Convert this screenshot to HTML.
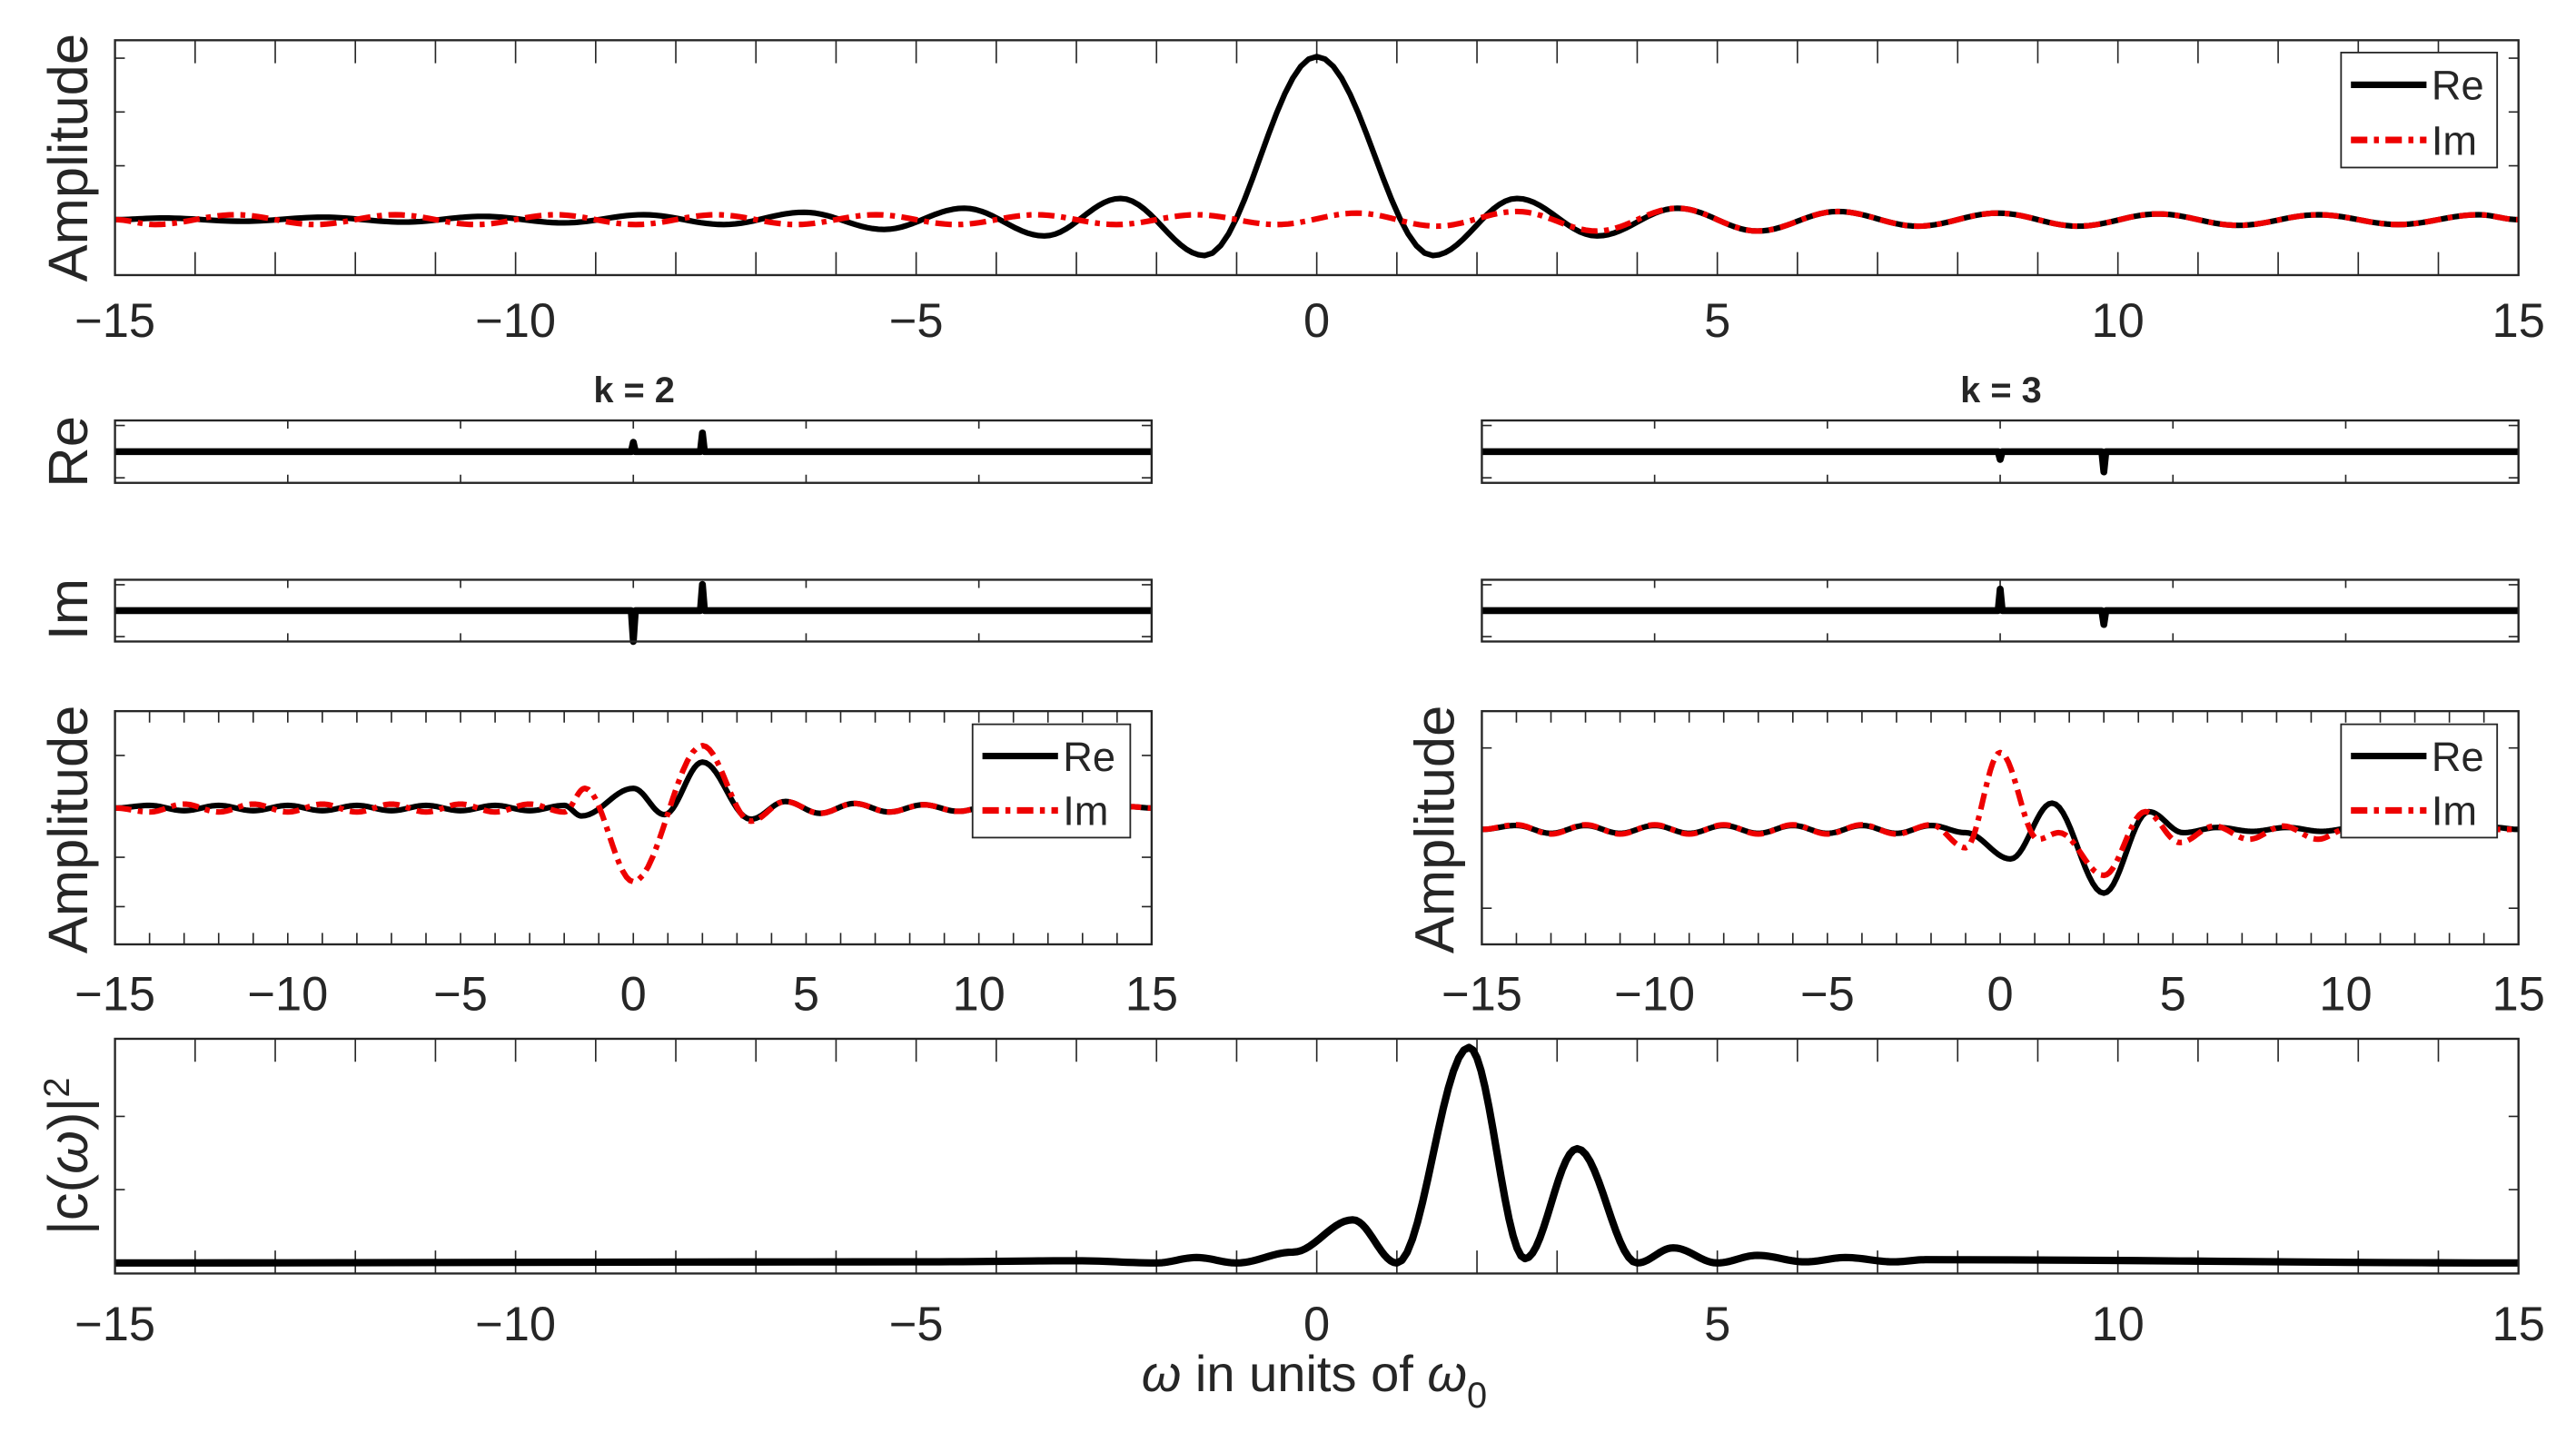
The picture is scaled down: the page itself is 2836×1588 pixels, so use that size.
<!DOCTYPE html>
<html><head><meta charset="utf-8"><style>
html,body{margin:0;padding:0;background:#fff;}
svg{display:block;}
text{font-family:"Liberation Sans",sans-serif;fill:#262626;}
</style></head><body>
<svg id="fig" xmlns="http://www.w3.org/2000/svg" width="2836" height="1588" viewBox="0 0 1568 878" preserveAspectRatio="none"></svg>
<script>
// ---- data ----
const topReX=[-15,-14.4,-13.4,-12.4,-11.4,-10.4,-9.4,-8.4,-7.4,-6.4,-5.4,-4.4,-3.4,-2.45,-1.4,0,1.45,2.5,3.5,4.5,5.5,6.5,7.5,8.5,9.5,10.5,11.5,12.5,13.5,14.5,15];
const topReY=[0,0.01,-0.01,0.015,-0.015,0.02,-0.02,0.03,-0.03,0.045,-0.06,0.07,-0.1,0.13,-0.22,1,-0.22,0.13,-0.1,0.07,-0.07,0.05,-0.04,0.04,-0.04,0.035,-0.035,0.03,-0.03,0.03,0];
const topImX=[-15,-14.5,-13.5,-12.5,-11.5,-10.5,-9.5,-8.5,-7.5,-6.5,-5.5,-4.5,-3.5,-2.5,-1.5,-0.5,0.5,1.5,2.5,3.5,4.5,5.5,6.5,7.5,8.5,9.5,10.5,11.5,12.5,13.5,14.5,15];
const topImY=[0,-0.03,0.03,-0.03,0.03,-0.03,0.03,-0.03,0.03,-0.03,0.03,-0.03,0.03,-0.03,0.03,-0.03,0.04,-0.04,0.05,-0.07,0.07,-0.07,0.05,-0.04,0.04,-0.04,0.035,-0.035,0.03,-0.03,0.03,0];
const k2ReSpikeX=[0,2]; const k2ReSpikeY=[0.3,0.6];
const k2ImSpikeX=[0,2]; const k2ImSpikeY=[-1.0,0.85];
const k3ReSpikeX=[0,3]; const k3ReSpikeY=[-0.25,-0.65];
const k3ImSpikeX=[0,3]; const k3ImSpikeY=[0.7,-0.45];
const k2ReX=[-15,-14,-13,-12,-11,-10,-9,-8,-7,-6,-5,-4,-3,-2,-1.5,0,0.9,2.0,3.4,4.4,5.4,6.4,7.4,8.4,9.4,10.4,11.4,12.4,13.4,14.4,15];
const k2ReY=[0,0.04,-0.04,0.04,-0.04,0.04,-0.04,0.04,-0.04,0.04,-0.04,0.04,-0.04,0.04,-0.12,0.3,-0.1,0.7,-0.17,0.1,-0.08,0.07,-0.06,0.05,-0.05,0.04,-0.04,0.03,-0.03,0.02,0];
const k2ImX=[-15,-14,-13,-12,-11,-10,-9,-8,-7,-6,-5,-4,-3,-2,-1.4,0,2.0,3.4,4.4,5.4,6.4,7.4,8.4,9.4,10.4,11.4,12.4,13.4,14.4,15];
const k2ImY=[0,-0.06,0.06,-0.06,0.06,-0.06,0.06,-0.06,0.06,-0.06,0.06,-0.06,0.06,-0.06,0.3,-1.12,0.95,-0.2,0.1,-0.08,0.07,-0.06,0.05,-0.05,0.04,-0.04,0.03,-0.03,0.02,0];
const k3ReX=[-15,-14,-13,-12,-11,-10,-9,-8,-7,-6,-5,-4,-3,-2,-1,0.3,1.5,3.0,4.3,5.3,6.3,7.3,8.3,9.3,10.3,11.3,12.3,13.3,14.3,15];
const k3ReY=[0,0.06,-0.06,0.06,-0.06,0.06,-0.06,0.06,-0.06,0.06,-0.06,0.06,-0.06,0.06,-0.05,-0.45,0.4,-0.97,0.27,-0.05,0.03,-0.03,0.03,-0.03,0.03,-0.03,0.03,-0.03,0.03,0];
const k3ImX=[-15,-14,-13,-12,-11,-10,-9,-8,-7,-6,-5,-4,-3,-2,-1,0,1.1,1.7,3.0,4.2,5.2,6.2,7.2,8.2,9.2,10,15];
const k3ImY=[0,0.07,-0.07,0.07,-0.07,0.07,-0.07,0.07,-0.07,0.07,-0.07,0.07,-0.07,0.07,-0.28,1.17,-0.15,-0.05,-0.7,0.27,-0.2,0.05,-0.15,0.05,-0.15,0,0];
const specX=[-15,-5,-3,-2,-1.5,-1,-0.3,0.45,1.0,1.9,2.6,3.25,4.0,4.45,5.0,5.5,6.1,6.6,7.2,7.6,15];
const specY=[0,0.005,0.01,0,0.025,0,0.05,0.2,0,1.0,0.02,0.53,0,0.07,0,0.035,0.005,0.025,0.005,0.015,0];
const xTickVals=[-15,-10,-5,0,5,10,15];
const xTickLabels=["\u221215","\u221210","\u22125","0","5","10","15"];

// ---- helpers ----
const NS="http://www.w3.org/2000/svg";
const svg=document.getElementById('fig');
function el(tag,attrs,parent){const e=document.createElementNS(NS,tag);for(const k in attrs)e.setAttribute(k,attrs[k]);(parent||svg).appendChild(e);return e;}
function makeAxes(p){
  p.sx=v=>p.x0+(v-p.xmin)/(p.xmax-p.xmin)*(p.x1-p.x0);
  p.sy=v=>p.y1-(v-p.ymin)/(p.ymax-p.ymin)*(p.y1-p.y0);
  const g=el('g',{});
  
  
  p.g=g;
  const cp=el('clipPath',{id:'c_'+p.name},g);
  el('rect',{x:p.x0,y:p.y0,width:p.x1-p.x0,height:p.y1-p.y0},cp);
  let d='';
  for(let v=p.xmin;v<=p.xmax+1e-9;v+=p.xstep){const x=p.sx(v);d+=`M${x},${p.y0}v${p.tl}M${x},${p.y1}v${-p.tl}`;}
  for(const v of p.yticks){const y=p.sy(v);d+=`M${p.x0},${y}h6M${p.x1},${y}h-6`;}
  const t=el('path',{d:d,stroke:'#262626','stroke-width':0.9,fill:'none'},g);
  
  
  if(p.labels){
    xTickVals.forEach((v,i)=>{const tx=el('text',{x:p.sx(v),y:p.ly,'font-size':29,'text-anchor':'middle'},g);tx.textContent=xTickLabels[i];
      
      });
  }
  return p;
}
function frame(p){
  const r=el('rect',{x:p.x0,y:p.y0,width:p.x1-p.x0,height:p.y1-p.y0,fill:'none',stroke:'#262626','stroke-width':1.3},p.g);
  
  
}
function curve(p,xs,ys,color,dash,w,name){
  let pts=[];
  for(let i=0;i<xs.length-1;i++){
    const n=14;
    for(let j=0;j<n;j++){const t=j/n;const f=(1-Math.cos(Math.PI*t))/2;
      pts.push([xs[i]+(xs[i+1]-xs[i])*t, ys[i]+(ys[i+1]-ys[i])*f]);}
  }
  pts.push([xs[xs.length-1],ys[ys.length-1]]);
  const d='M'+pts.map(q=>p.sx(q[0]).toFixed(2)+','+p.sy(q[1]).toFixed(2)).join('L');
  const a={d:d,fill:'none',stroke:color,'stroke-width':w,'stroke-linejoin':'round','clip-path':`url(#c_${p.name})`};
  if(dash)a['stroke-dasharray']=dash;
  const e=el('path',a,p.g);
  
  
}
function spikes(p,sxs,sys,name){
  let d=`M${p.sx(p.xmin)},${p.sy(0)}`;
  sxs.forEach((x,i)=>{d+=`L${p.sx(x-0.06)},${p.sy(0)}L${p.sx(x)},${p.sy(sys[i])}L${p.sx(x+0.06)},${p.sy(0)}`;});
  d+=`L${p.sx(p.xmax)},${p.sy(0)}`;
  const e=el('path',{d:d,fill:'none',stroke:'#000','stroke-width':4.2,'stroke-linejoin':'round'},p.g);
  
  
}
function ylabel(x,y,txt,name,size){
  const t=el('text',{x:x,y:y,'font-size':size||34,'text-anchor':'middle',transform:`rotate(-90 ${x} ${y})`});
  t.textContent=txt;
  
  
  return t;
}
function legend(x0,y0,x1,y1,name){
  const g=el('g',{});
  
  
  el('rect',{x:x0,y:y0,width:x1-x0,height:y1-y0,fill:'#fff',stroke:'#262626','stroke-width':1},g);
  const h=y1-y0;
  const ya=y0+h*0.28, yb=y0+h*0.76;
  el('line',{x1:x0+6,x2:x0+52,y1:ya,y2:ya,stroke:'#000','stroke-width':4},g);
  el('line',{x1:x0+6,x2:x0+52,y1:yb,y2:yb,stroke:'#e00','stroke-width':4,'stroke-dasharray':'10 4 3 4'},g);
  const t1=el('text',{x:x0+55,y:ya+9,'font-size':25},g);t1.textContent='Re';
  
  
  const t2=el('text',{x:x0+55,y:yb+9,'font-size':25},g);t2.textContent='Im';
  
  
}

// ---- top panel ----
const topAx=makeAxes({name:'top-axes',x0:70,x1:1533,y0:24.5,y1:167.5,xmin:-15,xmax:15,ymin:-0.34,ymax:1.1,xstep:1,tl:14,yticks:[0.33,0.66,0.99],labels:true,ly:205});
curve(topAx,topReX,topReY,'#000',null,3.4,'top-re-line');
curve(topAx,topImX,topImY,'#e00','10 4 3 4',3.4,'top-im-line');
frame(topAx);
legend(1425,32,1520,102,'top-legend');
ylabel(53,96,'Amplitude','top-y-axis-title');

// ---- k=2 / k=3 Re, Im ----
const mk=(name,x0,y0,y1)=>makeAxes({name:name,x0:x0,x1:x0+631,y0:y0,y1:y1,xmin:-15,xmax:15,ymin:-1,ymax:1,xstep:5,tl:5,yticks:[-0.84,0.84],labels:false});
const k2re=mk('k2-re-axes',70,256,294); spikes(k2re,k2ReSpikeX,k2ReSpikeY,'k2-re-line'); frame(k2re);
const k2im=mk('k2-im-axes',70,353,390.6); spikes(k2im,k2ImSpikeX,k2ImSpikeY,'k2-im-line'); frame(k2im);
const k3re=mk('k3-re-axes',902,256,294); spikes(k3re,k3ReSpikeX,k3ReSpikeY,'k3-re-line'); frame(k3re);
const k3im=mk('k3-im-axes',902,353,390.6); spikes(k3im,k3ImSpikeX,k3ImSpikeY,'k3-im-line'); frame(k3im);
ylabel(53,275,'Re','re-y-axis-title');
ylabel(53,371,'Im','im-y-axis-title');
[['k = 2',386,'k2-title'],['k = 3',1218,'k3-title']].forEach(a=>{const t=el('text',{x:a[1],y:245,'font-size':22,'font-weight':'bold','text-anchor':'middle'});t.textContent=a[0];
  
  });

// ---- k=2 / k=3 amplitude ----
const k2a=makeAxes({name:'k2-amp-axes',x0:70,x1:701,y0:433,y1:575,xmin:-15,xmax:15,ymin:-2.075,ymax:1.475,xstep:1,tl:7,yticks:[0.8,-0.75,-1.5],labels:true,ly:615});
curve(k2a,k2ReX,k2ReY,'#000',null,3.4,'k2-amp-re-line');
curve(k2a,k2ImX,k2ImY,'#e00','10 4 3 4',3.4,'k2-amp-im-line');
frame(k2a);
legend(592,441,688,510,'k2-legend');
ylabel(53,505,'Amplitude','k2-y-axis-title');
const k3a=makeAxes({name:'k3-amp-axes',x0:902,x1:1533,y0:433,y1:575,xmin:-15,xmax:15,ymin:-1.75,ymax:1.8,xstep:1,tl:7,yticks:[1.24,-1.2],labels:true,ly:615});
curve(k3a,k3ReX,k3ReY,'#000',null,3.4,'k3-amp-re-line');
curve(k3a,k3ImX,k3ImY,'#e00','10 4 3 4',3.4,'k3-amp-im-line');
frame(k3a);
legend(1425,441,1520,510,'k3-legend');
ylabel(885,505,'Amplitude','k3-y-axis-title');

// ---- bottom spectrum ----
const bot=makeAxes({name:'spectrum-axes',x0:70,x1:1533,y0:632.5,y1:775.4,xmin:-15,xmax:15,ymin:-0.049,ymax:1.04,xstep:1,tl:14,yticks:[0.34,0.68],labels:true,ly:816});
curve(bot,specX,specY,'#000',null,4.5,'spectrum-line');
frame(bot);
const yl=ylabel(53,704,'','spectrum-y-axis-title');
yl.innerHTML='|c(<tspan font-style="italic">ω</tspan>)|<tspan dy="-11" font-size="22">2</tspan>';
const xl=el('text',{x:800,y:847,'font-size':31,'text-anchor':'middle'});


xl.innerHTML='<tspan font-style="italic">ω</tspan> in units of <tspan font-style="italic">ω</tspan><tspan dy="10" font-size="22">0</tspan>';
</script>
</body></html>
